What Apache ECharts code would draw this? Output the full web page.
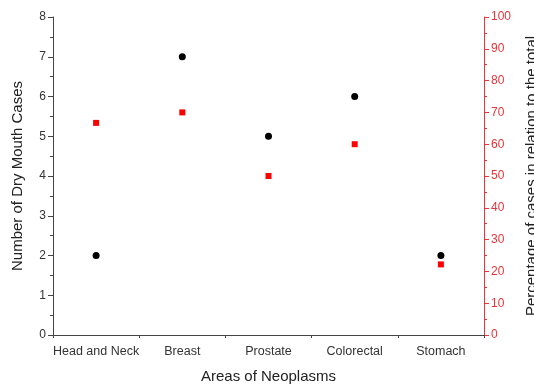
<!DOCTYPE html>
<html><head><meta charset="utf-8">
<script src="https://cdn.jsdelivr.net/npm/echarts@6/dist/echarts.min.js"></script>
<style>html,body{margin:0;padding:0;background:#fff}#c{width:534px;height:385px}</style>
</head><body><div id="c"></div>
<script>
var categories = ['Head and Neck', 'Breast', 'Prostate', 'Colorectal', 'Stomach'];
var dryMouthCases = [2, 7, 5, 6, 2];
var percentOfTotal = [66.7, 70, 50, 60, 22.2];
var leftTicks = [0, 1, 2, 3, 4, 5, 6, 7, 8];
var rightTicks = [0, 10, 20, 30, 40, 50, 60, 70, 80, 90, 100];

var FONT = 'Liberation Sans, Arial, sans-serif';
var chart = echarts.init(document.getElementById('c'));
chart.setOption({
  animation: false,
  grid: {left: 53, right: 50, top: 17, bottom: 50, containLabel: false, outerBoundsMode: 'none'},
  xAxis: [{
    type: 'category', data: categories, boundaryGap: true,
    name: 'Areas of Neoplasms', nameLocation: 'middle', nameGap: 34,
    nameTextStyle: {fontFamily: FONT, fontSize: 15, color: '#222'},
    axisLine: {lineStyle: {color: '#444', width: 1}},
    axisTick: {alignWithLabel: true, length: 5, lineStyle: {color: '#444'}},
    axisLabel: {fontFamily: FONT, fontSize: 12.5, color: '#333', margin: 10, interval: 0},
    splitLine: {show: false}
  }, {
    type: 'category', data: categories, boundaryGap: true, position: 'bottom',
    axisLine: {show: false},
    axisTick: {show: true, interval: 0, length: 3, lineStyle: {color: '#444'}},
    axisLabel: {show: false}, splitLine: {show: false}
  }],
  yAxis: [{
    type: 'value', min: leftTicks[0], max: leftTicks[leftTicks.length - 1], interval: 1,
    name: 'Number of Dry Mouth Cases', nameLocation: 'middle', nameGap: 28,
    nameTextStyle: {fontFamily: FONT, fontSize: 15, color: '#222'},
    axisLine: {show: true, lineStyle: {color: '#444'}},
    axisTick: {show: true, length: 5, lineStyle: {color: '#444'}},
    minorTick: {show: true, splitNumber: 2, length: 3, lineStyle: {color: '#444'}},
    axisLabel: {fontFamily: FONT, fontSize: 12, color: '#333', margin: 7},
    splitLine: {show: false}
  }, {
    type: 'value', min: rightTicks[0], max: rightTicks[rightTicks.length - 1], interval: 10,
    position: 'right',
    name: 'Percentage of cases in relation to the total', nameLocation: 'middle', nameGap: 40,
    nameTextStyle: {fontFamily: FONT, fontSize: 15, color: '#222'},
    axisLine: {show: true, lineStyle: {color: '#e8343a'}},
    axisTick: {show: true, length: 5, lineStyle: {color: '#e8343a'}},
    minorTick: {show: true, splitNumber: 2, length: 3, lineStyle: {color: '#e8343a'}},
    axisLabel: {fontFamily: FONT, fontSize: 12, color: '#e8343a', margin: 7},
    splitLine: {show: false}
  }],
  series: [{
    type: 'scatter', xAxisIndex: 0, yAxisIndex: 0, data: dryMouthCases,
    symbol: 'circle', symbolSize: 7, itemStyle: {color: '#000', opacity: 1}
  }, {
    type: 'scatter', xAxisIndex: 0, yAxisIndex: 1, data: percentOfTotal,
    symbol: 'rect', symbolSize: 6, itemStyle: {color: '#f00', opacity: 1}
  }]
});
</script></body></html>
